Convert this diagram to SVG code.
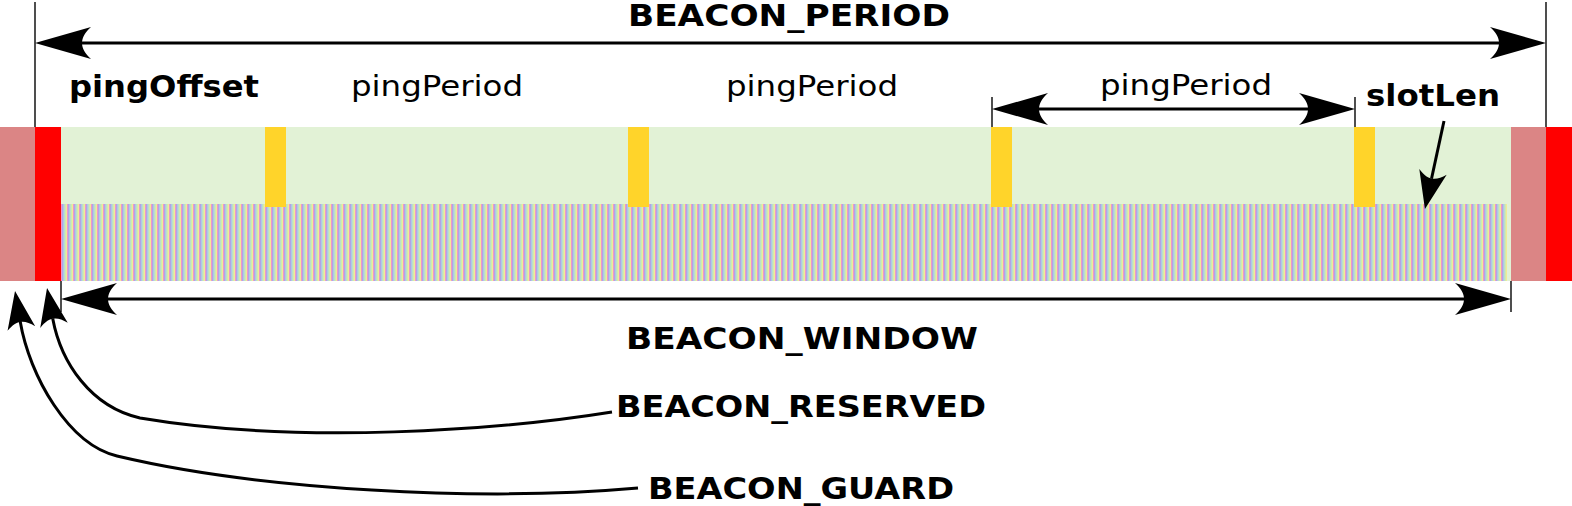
<svg xmlns="http://www.w3.org/2000/svg" width="1572" height="506" viewBox="0 0 1572 506">
  <style>
    .lbl { font-family: "DejaVu Sans", Verdana, sans-serif; fill: #000; }
    .b { font-weight: bold; font-size: 31px; }
    .n { font-size: 28px; }
    .guard { fill: #db8585; }
    .rsv { fill: #ff0000; }
    .win { fill: #e2f2d6; }
    .slot { fill: #ffd42a; }
    .tick { stroke: #222; stroke-width: 1.6; fill: none; }
    .arr { stroke: #000; stroke-width: 3; fill: none; }
  </style>
  <defs>
    <pattern id="stripes" x="61" y="0" width="6" height="10" patternUnits="userSpaceOnUse">
      <rect x="0" y="0" width="1.2" height="10" fill="#ee98c8"/>
      <rect x="1.2" y="0" width="1.2" height="10" fill="#a994e8"/>
      <rect x="2.4" y="0" width="1.2" height="10" fill="#98c4ee"/>
      <rect x="3.6" y="0" width="1.2" height="10" fill="#c4eaa8"/>
      <rect x="4.8" y="0" width="1.2" height="10" fill="#f1ea98"/>
    </pattern>
    <marker id="ahL" markerUnits="userSpaceOnUse" orient="auto-start-reverse" refX="0" refY="0" markerWidth="60" markerHeight="40" viewBox="-10 -20 60 40" overflow="visible">
      <path d="M47,0 L-9,-16 C3,-5 3,5 -9,16 Z" fill="#000"/>
    </marker>
    <marker id="ahS" markerUnits="userSpaceOnUse" orient="auto" refX="0" refY="0" markerWidth="45" markerHeight="34" viewBox="-8 -17 45 34" overflow="visible">
      <path d="M31,0 L-7,-14 C2,-4 2,4 -7,14 Z" fill="#000"/>
    </marker>
  </defs>

  <rect width="1572" height="506" fill="#fff"/>

  <g id="guard-left"><rect class="guard" x="0" y="127" width="35" height="154"/></g>
  <g id="reserved-left"><rect class="rsv" x="35" y="127" width="26" height="154"/></g>
  <g id="beacon-window">
    <rect class="win" x="61" y="127" width="1450" height="154"/>
    <rect x="61" y="204" width="1446" height="77" fill="url(#stripes)"/>
  </g>
  <g id="slots">
    <rect class="slot" x="265" y="127" width="21" height="80"/>
    <rect class="slot" x="628" y="127" width="21" height="80"/>
    <rect class="slot" x="991" y="127" width="21" height="80"/>
    <rect class="slot" x="1354" y="127" width="21" height="80"/>
  </g>
  <g id="guard-right"><rect class="guard" x="1511" y="127" width="35" height="154"/></g>
  <g id="reserved-right"><rect class="rsv" x="1546" y="127" width="26" height="154"/></g>

  <g id="connectors">
    <line class="tick" x1="35" y1="2" x2="35" y2="127"/>
    <line class="tick" x1="1546" y1="2" x2="1546" y2="127"/>
    <line class="tick" x1="992" y1="97" x2="992" y2="127"/>
    <line class="tick" x1="1355" y1="97" x2="1355" y2="127"/>
    <line class="tick" x1="61" y1="281" x2="61" y2="312"/>
    <line class="tick" x1="1511" y1="281" x2="1511" y2="312"/>

    <line class="arr" x1="82" y1="43" x2="1499" y2="43" marker-start="url(#ahL)" marker-end="url(#ahL)"/>
    <line class="arr" x1="1039" y1="109" x2="1308" y2="109" marker-start="url(#ahL)" marker-end="url(#ahL)"/>
    <line class="arr" x1="108" y1="299" x2="1464" y2="299" marker-start="url(#ahL)" marker-end="url(#ahL)"/>
    <line class="arr" x1="1444" y1="121" x2="1431.5" y2="178.7" marker-end="url(#ahS)"/>
    <path class="arr" d="M612,412 C500,430 300,445 140,418 C91,407 61,363 52.7,318.5" marker-end="url(#ahS)"/>
    <path class="arr" d="M638,488 C480,502 260,490 117,456 C68.4,444.4 29.4,375.8 20.2,321.6" marker-end="url(#ahS)"/>
  </g>

  <g id="labels">
    <text class="lbl b" x="628" y="26" textLength="322" lengthAdjust="spacingAndGlyphs">BEACON_PERIOD</text>
    <text class="lbl b" x="69" y="97" textLength="190" lengthAdjust="spacingAndGlyphs">pingOffset</text>
    <text class="lbl n" x="351" y="96" textLength="172" lengthAdjust="spacingAndGlyphs">pingPeriod</text>
    <text class="lbl n" x="726" y="96" textLength="172" lengthAdjust="spacingAndGlyphs">pingPeriod</text>
    <text class="lbl n" x="1100" y="95" textLength="172" lengthAdjust="spacingAndGlyphs">pingPeriod</text>
    <text class="lbl b" x="1366" y="106" textLength="134" lengthAdjust="spacingAndGlyphs">slotLen</text>
    <text class="lbl b" x="626" y="349" textLength="352" lengthAdjust="spacingAndGlyphs">BEACON_WINDOW</text>
    <text class="lbl b" x="616" y="417" textLength="370" lengthAdjust="spacingAndGlyphs">BEACON_RESERVED</text>
    <text class="lbl b" x="648" y="499" textLength="306" lengthAdjust="spacingAndGlyphs">BEACON_GUARD</text>
  </g>
</svg>
